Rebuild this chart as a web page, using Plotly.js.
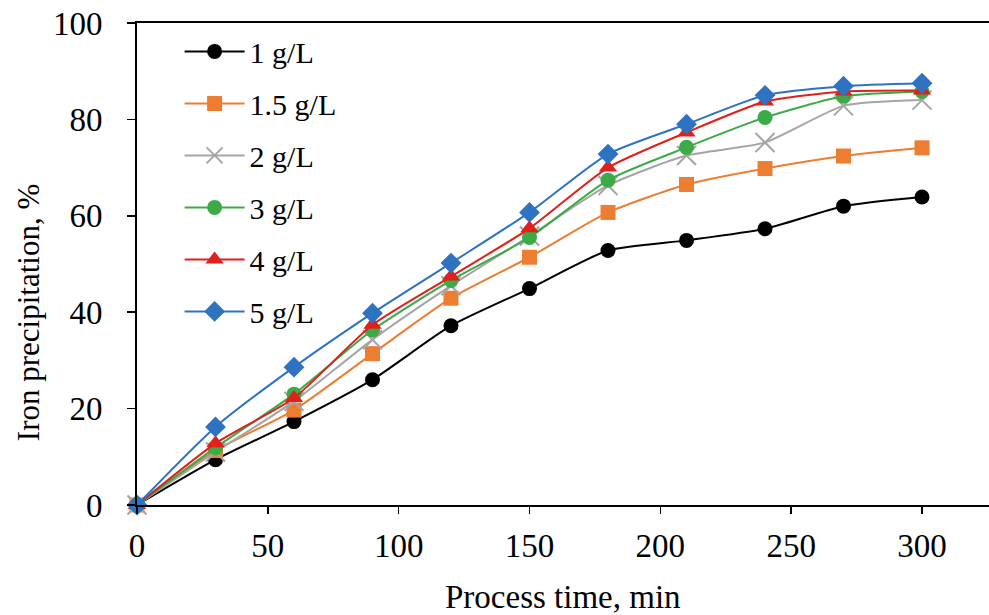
<!DOCTYPE html>
<html>
<head>
<meta charset="utf-8">
<script src="https://cdn.plot.ly/plotly-3.0.1.min.js"></script>
<style>html,body{margin:0;padding:0;background:#fff;}#chart{width:989px;height:615px;}</style>
</head>
<body>
<div id="chart"></div>
<script>
var times = [0, 30, 60, 90, 120, 150, 180, 210, 240, 270, 300];
var seriesNames = ["1 g/L", "1.5 g/L", "2 g/L", "3 g/L", "4 g/L", "5 g/L"];
var s1 = [0, 9.4, 17.3, 26.0, 37.2, 44.9, 52.8, 54.9, 57.3, 62.0, 63.9];
var s15 = [0, 11.3, 19.7, 31.4, 42.9, 51.4, 60.7, 66.5, 69.8, 72.4, 74.1];
var s2 = [0, 11.0, 21.5, 34.3, 45.5, 55.8, 66.3, 72.5, 75.2, 82.8, 84.0];
var s3 = [0, 11.9, 23.0, 36.3, 46.6, 55.5, 67.4, 74.2, 80.4, 84.8, 85.8];
var s4 = [0, 12.8, 22.2, 37.4, 47.4, 57.4, 70.0, 77.3, 83.7, 85.8, 86.0];
var s5 = [0, 16.2, 28.6, 39.8, 50.2, 60.7, 72.8, 79.0, 85.0, 86.9, 87.5];
var xTicks = [0, 50, 100, 150, 200, 250, 300];
var yTicks = [0, 20, 40, 60, 80, 100];

var values = [s1, s15, s2, s3, s4, s5];
var colors = ["#000000", "#ED7D31", "#A5A5A5", "#3DAA48", "#E0201B", "#2E72C2"];
var symbols = ["circle", "square", "x-thin-open", "circle", "triangle-up", "diamond"];
var sizes = [15, 15, 19, 15, 16, 16];

var traces = values.map(function (v, i) {
  return {
    x: times, y: v, name: seriesNames[i], type: "scatter", mode: "lines+markers",
    legendgroup: "g" + i, cliponaxis: false,
    line: {color: colors[i], width: 2, shape: "spline", smoothing: 0.6},
    marker: {symbol: symbols[i], size: sizes[i], color: colors[i],
             line: {color: colors[i], width: symbols[i] === "x-thin-open" ? 2 : 0}}
  };
});

var font = "Liberation Serif, Times New Roman, serif";
var layout = {
  width: 989, height: 615,
  margin: {l: 137, r: 0, t: 23, b: 110},
  paper_bgcolor: "#fff", plot_bgcolor: "#fff",
  font: {family: font, color: "#000", size: 33},
  showlegend: true,
  legend: {x: 0.05, y: 0.995, xanchor: "left", yanchor: "top", bgcolor: "rgba(0,0,0,0)",
           font: {family: font, size: 30, color: "#000"}, tracegroupgap: 10, itemwidth: 60},
  xaxis: {range: [0, 325.6], tickvals: xTicks, ticktext: xTicks.map(String), showgrid: false, zeroline: false,
          showline: true, linecolor: "#000", linewidth: 2, mirror: true, ticks: "outside", ticklen: 7, tickwidth: 1.5,
          tickcolor: "#000", ticklabelstandoff: 3, tickfont: {family: font, size: 33}},
  yaxis: {range: [0, 100], tickvals: yTicks, ticktext: yTicks.map(String), showgrid: false, zeroline: false,
          showline: true, linecolor: "#000", linewidth: 2, ticks: "outside", ticklen: 8, tickwidth: 1.5,
          tickcolor: "#000", ticklabelstandoff: 18, tickfont: {family: font, size: 33}},
  annotations: [
    {text: "Process time, min", xref: "paper", yref: "paper", x: 0.5, y: -0.19, xanchor: "center", yanchor: "middle",
     showarrow: false, font: {family: font, size: 33}},
    {text: "Iron precipitation, %", xref: "paper", yref: "paper", x: -0.128, y: 0.4, xanchor: "center", yanchor: "middle",
     textangle: -90, showarrow: false, font: {family: font, size: 31}}
  ]
};
Plotly.newPlot("chart", traces, layout, {displayModeBar: false, staticPlot: true});
</script>
</body>
</html>
